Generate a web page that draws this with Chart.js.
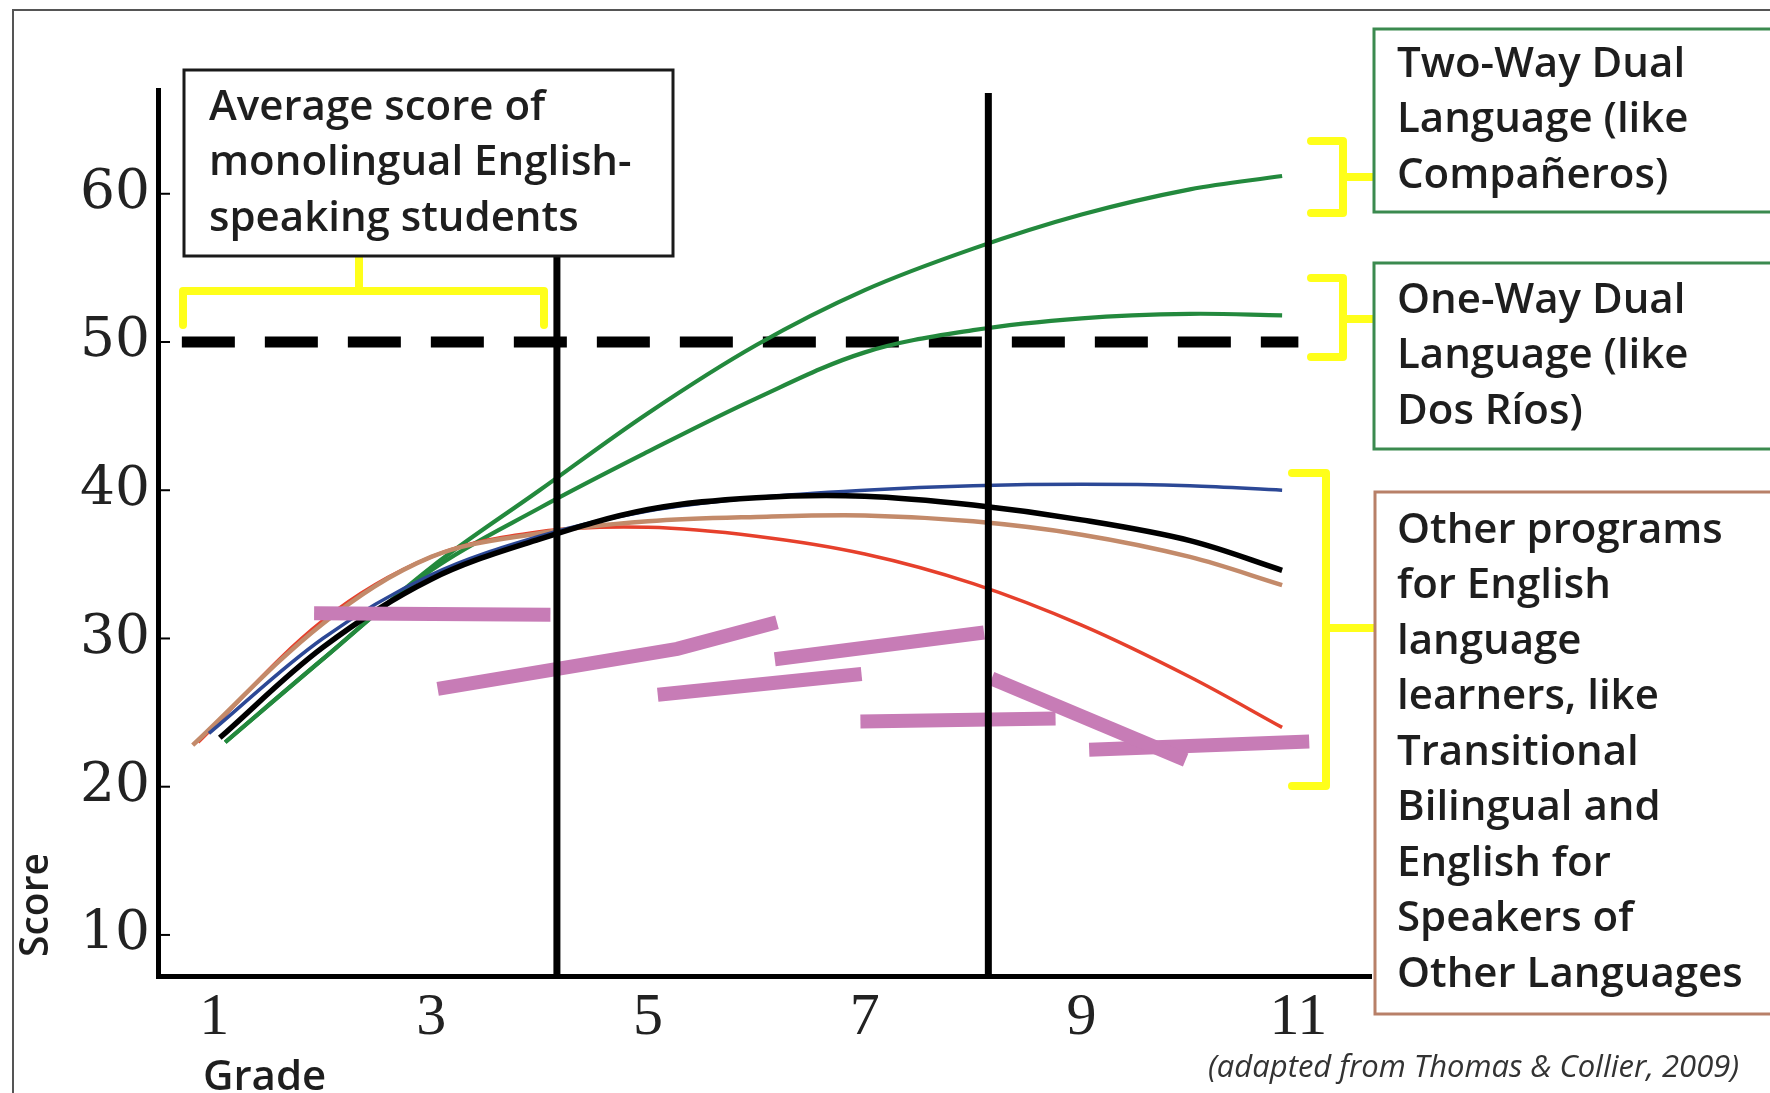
<!DOCTYPE html>
<html>
<head>
<meta charset="utf-8">
<script src="https://cdn.jsdelivr.net/npm/chart.js@4.4.1/dist/chart.umd.min.js"></script>
<style>
  html, body { margin: 0; padding: 0; background: #fff; }
  canvas { display: block; }
</style>
</head>
<body>
<canvas id="chart" width="1770" height="1093"></canvas>
<script>
// tick labels
const gradeTicks = [1, 3, 5, 7, 9, 11];
const scoreTicks = [10, 20, 30, 40, 50, 60];

// average score of monolingual English speakers (dashed line)
const averageScore = 50;
const averageGrades = [0.7, 11.0];

// the two vertical black lines
const boundaryGrades = [4.16, 8.14];

// program curves
const twoWayGrades = [1.1, 2, 3, 4, 5, 6, 7, 8, 9, 10, 10.85];
const twoWayScores = [23.0, 28.6, 34.8, 40.0, 45.2, 49.8, 53.5, 56.3, 58.6, 60.3, 61.2];

const oneWayGrades = [1.1, 2, 3, 4, 5, 6, 7, 8, 9, 10, 10.85];
const oneWayScores = [23.0, 28.6, 34.6, 38.8, 42.6, 46.2, 49.3, 50.8, 51.6, 51.9, 51.8];

const blueGrades = [0.95, 2, 3, 4, 5, 6, 7, 8, 9, 10, 10.85];
const blueScores = [23.6, 30.0, 34.3, 36.9, 38.6, 39.5, 40.0, 40.3, 40.4, 40.3, 40.0];

const blackGrades = [1.05, 2, 3, 4, 5, 6, 7, 8, 9, 10, 10.85];
const blackScores = [23.3, 29.4, 34.0, 36.7, 38.7, 39.5, 39.6, 39.0, 38.0, 36.6, 34.6];

const tanGrades = [0.8, 2, 3, 4, 5, 6, 7, 8, 9, 10, 10.85];
const tanScores = [22.8, 31.0, 35.5, 37.1, 37.9, 38.2, 38.3, 37.9, 37.0, 35.5, 33.6];

const redGrades = [0.85, 2, 3, 4, 5, 6, 7, 8, 9, 10, 10.85];
const redScores = [23.0, 31.2, 35.5, 37.2, 37.5, 36.9, 35.7, 33.7, 30.9, 27.4, 24.0];

// hand-drawn pink strokes: [grade, score] pairs
const pinkStrokes = [
  [[1.92, 31.7], [4.10, 31.6]],
  [[3.06, 26.6], [5.27, 29.3], [6.19, 31.1]],
  [[5.09, 26.2], [6.97, 27.6]],
  [[6.17, 28.6], [8.10, 30.4]],
  [[6.96, 24.4], [8.76, 24.6]],
  [[8.17, 27.3], [9.96, 21.8]],
  [[9.07, 22.5], [11.10, 23.05]]
];

const xMin = 0.48, xMax = 11.67;
const yMin = 7.23, yMax = 67.0;
const lineTop = 66.8;

const toPoints = (xs, ys) => xs.map((x, i) => ({ x: x, y: ys[i] }));

const curve = (label, xs, ys, color, width, order) => ({
  label: label,
  data: toPoints(xs, ys),
  borderColor: color,
  borderWidth: width,
  pointRadius: 0,
  tension: 0.35,
  order: order
});

const datasets = [];

boundaryGrades.forEach(g => {
  datasets.push({
    label: 'grade ' + g,
    data: [{ x: g, y: yMin }, { x: g, y: lineTop }],
    borderColor: '#000',
    borderWidth: 7,
    pointRadius: 0,
    order: 0
  });
});

pinkStrokes.forEach((s, i) => {
  datasets.push({
    label: 'pink ' + i,
    data: s.map(p => ({ x: p[0], y: p[1] })),
    borderColor: '#c77cb6',
    borderWidth: 14,
    borderCapStyle: 'butt',
    pointRadius: 0,
    order: 1
  });
});

datasets.push(curve('Other (black)', blackGrades, blackScores, '#000000', 5.5, 2));
datasets.push(curve('Other (blue)', blueGrades, blueScores, '#2c4896', 3.5, 3));
datasets.push(curve('Other (tan)', tanGrades, tanScores, '#c38a6a', 4.5, 3));
datasets.push(curve('Other (red)', redGrades, redScores, '#e6402c', 3.5, 3));
datasets.push(curve('Two-Way Dual Language', twoWayGrades, twoWayScores, '#23893d', 4.2, 3));
datasets.push(curve('One-Way Dual Language', oneWayGrades, oneWayScores, '#23893d', 4.2, 3));

datasets.push({
  label: 'Average monolingual',
  data: averageGrades.map(g => ({ x: g, y: averageScore })),
  borderColor: '#000',
  borderWidth: 11,
  borderDash: [53, 30],
  borderCapStyle: 'butt',
  pointRadius: 0,
  order: 4
});

const sans = '"Open Sans", sans-serif';
const textColor = '#1e1e1e';

function drawBox(ctx, x, y, w, h, stroke, lines, tx, ty, lh, size) {
  ctx.save();
  ctx.fillStyle = '#fff';
  ctx.fillRect(x, y, w, h);
  ctx.strokeStyle = stroke;
  ctx.lineWidth = 3;
  ctx.strokeRect(x, y, w, h);
  ctx.fillStyle = textColor;
  ctx.font = '600 ' + size + 'px ' + sans;
  ctx.textBaseline = 'middle';
  ctx.textAlign = 'left';
  lines.forEach((t, i) => ctx.fillText(t, tx, ty + i * lh));
  ctx.restore();
}

function bracket(ctx, x0, x1, top, bottom, stemY, stemTo) {
  ctx.beginPath();
  ctx.moveTo(x0, top);
  ctx.lineTo(x1, top);
  ctx.lineTo(x1, bottom);
  ctx.lineTo(x0, bottom);
  ctx.moveTo(x1, stemY);
  ctx.lineTo(stemTo, stemY);
  ctx.stroke();
}

const annotations = {
  id: 'annotations',
  afterDraw(chart) {
    const ctx = chart.ctx;
    const x = chart.scales.x, y = chart.scales.y;

    // small tick marks inside the y axis
    ctx.save();
    ctx.strokeStyle = '#000';
    ctx.lineWidth = 2;
    scoreTicks.forEach(v => {
      const py = y.getPixelForValue(v);
      ctx.beginPath();
      ctx.moveTo(x.left, py);
      ctx.lineTo(x.left + 12, py);
      ctx.stroke();
    });
    ctx.restore();

    // outer frame
    ctx.save();
    ctx.strokeStyle = '#555';
    ctx.lineWidth = 2;
    ctx.beginPath();
    ctx.moveTo(13, 1093);
    ctx.lineTo(13, 10);
    ctx.lineTo(1770, 10);
    ctx.stroke();
    ctx.restore();

    // yellow brackets
    ctx.save();
    ctx.strokeStyle = '#ffff1a';
    ctx.lineWidth = 8;
    ctx.lineJoin = 'round';
    ctx.lineCap = 'round';
    ctx.beginPath();
    ctx.moveTo(183, 325);
    ctx.lineTo(183, 291);
    ctx.lineTo(544, 291);
    ctx.lineTo(544, 325);
    ctx.moveTo(359, 291);
    ctx.lineTo(359, 256);
    ctx.stroke();
    bracket(ctx, 1311, 1343, 141, 213, 177, 1374);
    bracket(ctx, 1311, 1343, 278, 357, 319, 1374);
    bracket(ctx, 1292, 1326, 473, 786, 628, 1375);
    ctx.restore();

    // boxes
    drawBox(ctx, 184, 70, 489, 186, '#1a1a1a',
      ['Average score of', 'monolingual English-', 'speaking students'], 209, 108, 55.5, 42);
    drawBox(ctx, 1374, 29, 400, 183, '#3b8a4f',
      ['Two-Way Dual', 'Language (like', 'Compañeros)'], 1397, 65, 55.5, 42);
    drawBox(ctx, 1374, 263, 400, 186, '#3b8a4f',
      ['One-Way Dual', 'Language (like', 'Dos Ríos)'], 1397, 301, 55.5, 42);
    drawBox(ctx, 1375, 492, 400, 522, '#b88068',
      ['Other programs', 'for English', 'language', 'learners, like', 'Transitional',
       'Bilingual and', 'English for', 'Speakers of', 'Other Languages'], 1397, 531, 55.5, 42);

    // axis titles and source
    ctx.save();
    ctx.fillStyle = textColor;
    ctx.font = '600 39px ' + sans;
    ctx.textAlign = 'center';
    ctx.textBaseline = 'middle';
    ctx.translate(37, 905);
    ctx.rotate(-Math.PI / 2);
    ctx.fillText('Score', 0, 0);
    ctx.restore();

    ctx.save();
    ctx.fillStyle = textColor;
    ctx.font = '600 42px ' + sans;
    ctx.textAlign = 'left';
    ctx.textBaseline = 'alphabetic';
    ctx.fillText('Grade', 203, 1090);
    ctx.font = 'italic 31px ' + sans;
    ctx.fillStyle = '#333';
    ctx.fillText('(adapted from Thomas & Collier, 2009)', 1208, 1077);
    ctx.restore();
  }
};

new Chart(document.getElementById('chart'), {
  type: 'line',
  data: { datasets: datasets },
  options: {
    responsive: false,
    animation: false,
    layout: { padding: { left: 0, top: 90, right: 399, bottom: 0 } },
    plugins: { legend: { display: false }, tooltip: { enabled: false } },
    scales: {
      x: {
        type: 'linear',
        min: xMin,
        max: xMax,
        afterBuildTicks: s => { s.ticks = gradeTicks.map(v => ({ value: v })); },
        afterFit: s => { s.height = 117; },
        grid: { display: false, drawTicks: false },
        border: { display: true, color: '#000', width: 5 },
        ticks: {
          font: { family: '"Liberation Serif", serif', size: 60 },
          color: '#222',
          padding: 6,
          maxRotation: 0,
          autoSkip: false
        }
      },
      y: {
        type: 'linear',
        min: yMin,
        max: yMax,
        afterBuildTicks: s => { s.ticks = scoreTicks.map(v => ({ value: v })); },
        afterFit: s => { s.width = 158; },
        grid: { display: false, drawTicks: false },
        border: { display: true, color: '#000', width: 5 },
        ticks: {
          font: { family: '"DejaVu Serif", serif', size: 55 },
          color: '#222',
          padding: 8
        }
      }
    }
  },
  plugins: [annotations]
});
</script>
</body>
</html>
